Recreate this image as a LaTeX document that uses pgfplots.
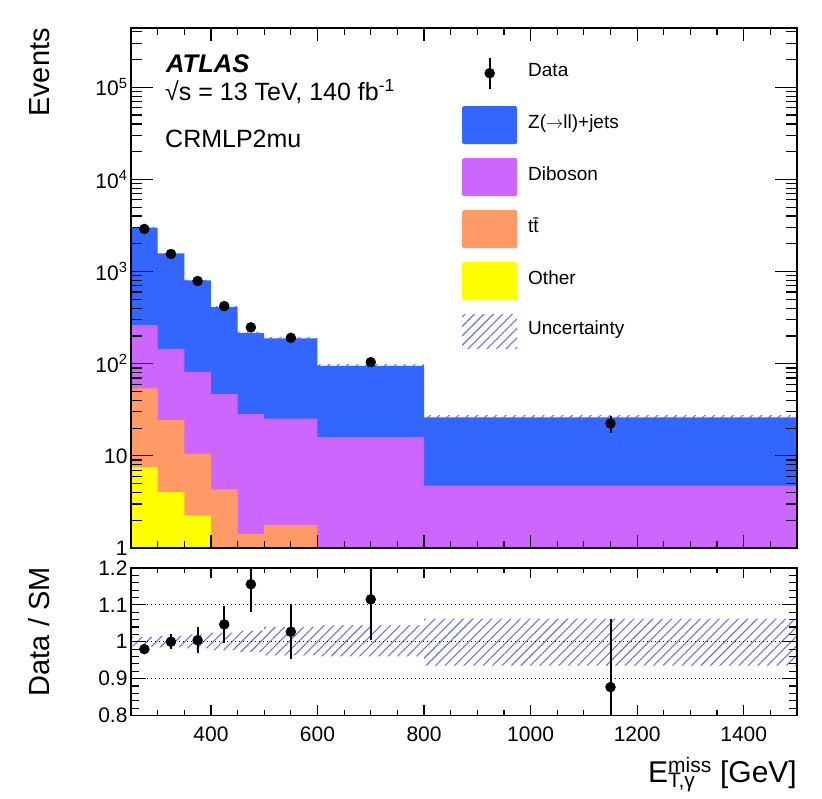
\documentclass[border=0pt]{standalone}
\usepackage{fontspec}
\setmainfont{Liberation Sans}
\usepackage{pgfplots}
\pgfplotsset{compat=1.18}
\usepgfplotslibrary{fillbetween}
\usetikzlibrary{patterns.meta}
\definecolor{zcol}{RGB}{51,102,255}
\definecolor{dbcol}{RGB}{204,102,255}
\definecolor{ttcol}{RGB}{255,153,102}
\definecolor{othcol}{RGB}{255,255,0}
\definecolor{hcol}{RGB}{110,110,250}
\begin{document}
\begin{tikzpicture}[x=1pt,y=1pt]
% ---------------- upper panel ----------------
\begin{axis}[
  at={(131pt,250pt)}, anchor=south west, scale only axis,
  width=666pt, height=520pt,
  xmin=250, xmax=1500, ymode=log, ymin=1, ymax=4.4e5,
  axis on top,
  tick align=inside, xtick pos=both, ytick pos=both,
  xtick={400,600,...,1400}, minor xtick={300,350,...,1500},
  xticklabels={,,,,,},
  major tick length=13pt, minor tick length=7pt,
  ytick style={/pgfplots/major tick length=22pt,/pgfplots/minor tick length=11pt},
  axis line style={line width=1.5pt},
  every tick/.style={black, line width=1.2pt},
  yticklabel style={font=\fontsize{21}{21}\selectfont},
  yticklabel={\pgfmathtruncatemacro\ee{round(\tick/2.302585093)}\ifcase\ee\relax 1\or 10\else 10\textsuperscript{\ee}\fi},
  legend style={at={(0.497,0.950)}, anchor=north west, draw=none, fill=none,
    inner sep=0pt, row sep=14pt, column sep=11pt,
    nodes={inner sep=0pt, anchor=west, text height=0.716em, text depth=0pt},
    font=\fontsize{19}{19}\selectfont},
  legend cell align=left,
]
\addlegendimage{legend image code/.code={\path[draw=none,fill=none] (0pt,-19pt) rectangle (55pt,19pt);
   \draw[black,line width=2pt] (27.5pt,-15.5pt)--(27.5pt,15.5pt);
   \fill[black] (27.5pt,0pt) circle (5pt);}}
\addlegendentry{Data}
\addlegendimage{legend image code/.code={\fill[zcol,draw=none,rounded corners=1.5pt] (0pt,-19pt) rectangle (55pt,19pt);}}
\addlegendentry{Z($\rightarrow$ll)+jets}
\addlegendimage{legend image code/.code={\fill[dbcol,draw=none,rounded corners=1.5pt] (0pt,-19pt) rectangle (55pt,19pt);}}
\addlegendentry{Diboson}
\addlegendimage{legend image code/.code={\fill[ttcol,draw=none,rounded corners=1.5pt] (0pt,-19pt) rectangle (55pt,19pt);}}
\addlegendentry{t\={t}}
\addlegendimage{legend image code/.code={\fill[othcol,draw=none,rounded corners=1.5pt] (0pt,-19pt) rectangle (55pt,19pt);}}
\addlegendentry{Other}
\addlegendimage{legend image code/.code={\path[draw=none,pattern={Lines[angle=45,distance=6.7pt,line width=1.1pt]},pattern color=hcol] (0pt,-17pt) rectangle (55pt,17pt);}}
\addlegendentry{Uncertainty}

% stacked histogram (cumulative tops)
\addplot[fill=zcol, draw=none, const plot mark left, forget plot] coordinates
 {(250,3006)(300,1571)(350,800)(400,411)(450,216)(500,188)(600,94.9)(800,26.1)(1500,26.1)} \closedcycle;
\addplot[fill=dbcol, draw=none, const plot mark left, forget plot] coordinates
 {(250,262)(300,145)(350,81.7)(400,46.8)(450,28.4)(500,25.3)(600,16.0)(800,4.74)(1500,4.74)} \closedcycle;
\addplot[fill=ttcol, draw=none, const plot mark left, forget plot] coordinates
 {(250,54)(300,24.4)(350,10.6)(400,4.33)(450,1.42)(500,1.78)(600,1)(800,1)(1500,1)} \closedcycle;
\addplot[fill=othcol, draw=none, const plot mark left, forget plot] coordinates
 {(250,7.56)(300,4.05)(350,2.24)(400,1)(450,1)(500,1)(600,1)(800,1)(1500,1)} \closedcycle;

% uncertainty band
\addplot[name path=bup, const plot mark left, draw=none, forget plot] coordinates
 {(250,3045)(300,1596)(350,816)(400,421)(450,222.5)(500,195.5)(600,99.2)(800,27.7)(1500,27.7)};
\addplot[name path=blo, const plot mark left, draw=none, forget plot] coordinates
 {(250,2967)(300,1547)(350,786)(400,401.5)(450,210)(500,181)(600,91.1)(800,24.4)(1500,24.4)};
\addplot[pattern={Lines[angle=45,distance=6.7pt,line width=1.1pt]}, pattern color=hcol, draw=none, forget plot]
  fill between[of=bup and blo];

% data
\addplot[only marks, mark=*, mark size=5pt, black, forget plot,
  error bars/.cd, y dir=both, y explicit, error mark=none,
  error bar style={line width=2pt, black}] coordinates {
 (275,2900) +- (0,54)
 (325,1550) +- (0,39)
 (375,790) +- (0,28)
 (425,422) +- (0,20.5)
 (475,248) +- (0,15.7)
 (550,191) +- (0,13.8)
 (700,104) +- (0,10.2)
 (1150,22.5) +- (0,4.7)};
\end{axis}

% ---------------- ratio panel ----------------
\begin{axis}[
  at={(131pt,82.5pt)}, anchor=south west, scale only axis,
  width=666pt, height=147.5pt,
  xmin=250, xmax=1500, ymin=0.8, ymax=1.2,
  axis on top,
  tick align=inside, xtick pos=both, ytick pos=both,
  xtick={400,600,...,1400}, minor xtick={300,350,...,1500},
  xticklabels={400,600,800,1000,1200,1400},
  ytick={0.8,0.9,1,1.1,1.2}, yticklabels={0.8,0.9,1,1.1,1.2},
  minor y tick num=4,
  major tick length=10pt, minor tick length=5pt,
  ytick style={/pgfplots/major tick length=15pt,/pgfplots/minor tick length=8pt},
  axis line style={line width=1.5pt},
  every tick/.style={black, line width=1.2pt},
  ticklabel style={font=\fontsize{21}{21}\selectfont},
  xticklabel style={yshift=-8pt},
  ymajorgrids, grid style={black, line width=1.1pt, dash pattern=on 1.4pt off 2.6pt},
]
\addplot[name path=rup, const plot mark left, draw=none, forget plot] coordinates
 {(250,1.013)(300,1.016)(350,1.02)(400,1.025)(450,1.03)(500,1.04)(600,1.045)(800,1.063)(1500,1.063)};
\addplot[name path=rlo, const plot mark left, draw=none, forget plot] coordinates
 {(250,0.987)(300,0.985)(350,0.982)(400,0.977)(450,0.972)(500,0.963)(600,0.96)(800,0.935)(1500,0.935)};
\addplot[pattern={Lines[angle=45,distance=6.7pt,line width=1.1pt]}, pattern color=hcol, draw=none, forget plot]
  fill between[of=rup and rlo];
\addplot[only marks, mark=*, mark size=5pt, black,
  error bars/.cd, y dir=both, y explicit, error mark=none,
  error bar style={line width=2pt, black}] coordinates {
 (275,0.980) +- (0,0.013)
 (325,1.000) +- (0,0.020)
 (375,1.004) +- (0,0.035)
 (425,1.047) +- (0,0.050)
 (475,1.156) +- (0,0.075)
 (550,1.027) +- (0,0.075)
 (700,1.115) +- (0,0.110)
 (1150,0.877) +- (0,0.186)};
\end{axis}

% ---------------- texts ----------------
\node[anchor=base west, inner sep=0pt, font=\fontsize{25.5}{25.5}\selectfont\bfseries\itshape] at (166pt,725pt) {ATLAS};
\node[anchor=base west, inner sep=0pt, font=\fontsize{25}{25}\selectfont] at (165pt,697pt) {√s = 13 TeV, 140 fb\textsuperscript{-1}};
\node[anchor=base west, inner sep=0pt, font=\fontsize{25}{25}\selectfont] at (165pt,650pt) {CRMLP2mu};
\node[rotate=90, anchor=east, inner sep=0pt, font=\fontsize{29}{29}\selectfont] at (40pt,770pt) {Events};
\node[rotate=90, anchor=east, inner sep=0pt, font=\fontsize{29}{29}\selectfont] at (39pt,231pt) {Data / SM};
\node[anchor=base east, inner sep=0pt, font=\fontsize{30}{30}\selectfont] at (797pt,16pt)
  {E\rlap{\textsubscript{T,γ}}\textsuperscript{miss} [GeV]};
\pgfresetboundingbox
\path[use as bounding box] (0,0) rectangle (822,798);
\end{tikzpicture}
\end{document}
